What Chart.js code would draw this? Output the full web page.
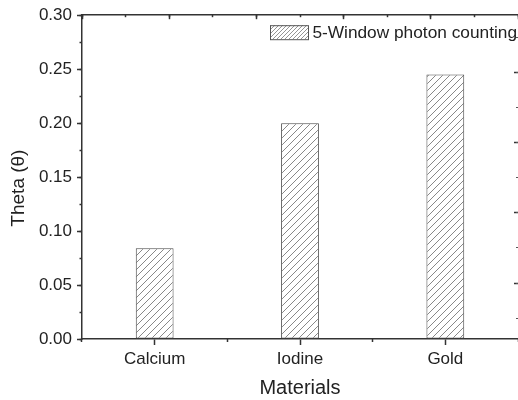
<!DOCTYPE html>
<html>
<head>
<meta charset="utf-8">
<script src="https://cdn.jsdelivr.net/npm/chart.js@4.4.1/dist/chart.umd.min.js"></script>
<style>
  html, body { margin: 0; padding: 0; background: #ffffff; }
  #wrap { width: 518px; height: 400px; }
</style>
</head>
<body>
<div id="wrap"><canvas id="c" width="518" height="400"></canvas></div>
<script>
// ---- data ----
const categories = ['Calcium', 'Iodine', 'Gold'];
const thetaValues = [0.084, 0.200, 0.245];
const seriesLabel = '5-Window photon counting';
const yTickLabels = ['0.00', '0.05', '0.10', '0.15', '0.20', '0.25', '0.30'];
const xTitle = 'Materials';
const yTitle = 'Theta (\u03B8)';

// ---- hatch patterns ----
function makeHatch(size, color, lw) {
  const c = document.createElement('canvas');
  c.width = size; c.height = size;
  const g = c.getContext('2d');
  g.fillStyle = '#ffffff';
  g.fillRect(0, 0, size, size);
  g.strokeStyle = color;
  g.lineWidth = lw;
  g.beginPath();
  g.moveTo(0, size); g.lineTo(size, 0);
  g.moveTo(-1, 1); g.lineTo(1, -1);
  g.moveTo(size - 1, size + 1); g.lineTo(size + 1, size - 1);
  g.stroke();
  return document.getElementById('c').getContext('2d').createPattern(c, 'repeat');
}
const barPattern = makeHatch(7, '#7a7a7a', 0.9);
const legendPattern = makeHatch(4, '#7a7a7a', 0.8);

Chart.defaults.font.family = "'Liberation Sans', Arial, Helvetica, sans-serif";
Chart.defaults.color = '#222222';

const AX = '#333333';

const innerLegend = {
  id: 'innerLegend',
  afterLayout(chart) {
    // move the y title centre a little lower, as in the reference
    const y = chart.scales.y;
    y.bottom += 22;
  },
  afterDraw(chart) {
    const { ctx, chartArea } = chart;
    const ds = chart.data.datasets[0];
    ctx.save();
    ctx.font = "17.3px 'Liberation Sans', Arial, sans-serif";
    const tw = ctx.measureText(ds.label).width;
    const tx = chartArea.right - 1 - tw;
    const bw = 38, bh = 14, gap = 4;
    const bx = Math.round(tx - gap - bw), by = chartArea.top + 10;
    ctx.fillStyle = legendPattern;
    ctx.fillRect(bx, by, bw, bh);
    ctx.strokeStyle = '#555555';
    ctx.lineWidth = 1;
    ctx.strokeRect(bx + 0.5, by + 0.5, bw, bh);
    ctx.fillStyle = '#222222';
    ctx.textBaseline = 'middle';
    ctx.textAlign = 'left';
    ctx.fillText(ds.label, tx, by + bh / 2 + 1);
    ctx.restore();
  }
};

new Chart(document.getElementById('c'), {
  type: 'bar',
  data: {
    labels: categories,
    datasets: [{
      label: seriesLabel,
      data: thetaValues,
      xAxisID: 'x',
      yAxisID: 'y',
      backgroundColor: barPattern,
      borderColor: '#4a4a4a',
      borderWidth: 1,
      borderSkipped: false,
      categoryPercentage: 1,
      barPercentage: 0.26
    }]
  },
  options: {
    responsive: false,
    animation: false,
    layout: { padding: { top: 15, right: 0, bottom: 0, left: 0 } },
    plugins: { legend: { display: false }, tooltip: { enabled: false } },
    scales: {
      x: {
        type: 'category', position: 'bottom', weight: 1, offset: true,
        grid: { offset: false, drawOnChartArea: false, tickLength: 6, tickColor: AX, tickWidth: 1.5 },
        border: { display: true, color: AX, width: 1.5 },
        ticks: { font: { size: 17 }, color: '#222', padding: 4, maxRotation: 0 },
        title: { display: true, text: xTitle, font: { size: 20 }, color: '#222', padding: { top: 0, bottom: 0 } },
        afterFit(s) { s.height = 61; }
      },
      xMinor: {
        type: 'category', position: 'bottom', weight: 0, offset: true,
        grid: { offset: true, drawOnChartArea: false, tickLength: 3, tickColor: AX, tickWidth: 1.5 },
        border: { display: false },
        ticks: { display: false },
        afterFit(s) { s.height = 0; }
      },
      xTop: {
        type: 'linear', position: 'top', weight: 1, offset: false, min: 0, max: 5, beginAtZero: false,
        grid: { offset: false, drawOnChartArea: false, tickLength: -4, tickColor: AX, tickWidth: 1.5 },
        border: { display: true, color: AX, width: 1.5 },
        ticks: { display: false, stepSize: 1, includeBounds: false },
        afterFit(s) { s.height = 0; }
      },
      xTopMinor: {
        type: 'linear', position: 'top', weight: 0, offset: false, min: 0, max: 5, beginAtZero: false,
        grid: { offset: false, drawOnChartArea: false, tickLength: -2, tickColor: AX, tickWidth: 1.5 },
        border: { display: false },
        ticks: { display: false, stepSize: 0.5, includeBounds: false },
        afterFit(s) { s.height = 0; }
      },
      y: {
        type: 'linear', position: 'left', weight: 1, min: 0, max: 0.30, beginAtZero: true,
        grid: { drawOnChartArea: false, tickLength: 5, tickColor: AX, tickWidth: 1.5 },
        border: { display: false },
        ticks: { stepSize: 0.05, font: { size: 17 }, color: '#222', padding: 5,
                 callback: (v, i) => yTickLabels[i] },
        title: { display: true, text: yTitle, font: { size: 19 }, color: '#222', padding: { top: 7, bottom: 0 } },
        afterFit(s) { s.width = 82; }
      },
      yMinor: {
        type: 'linear', position: 'left', weight: 0, min: 0, max: 0.30, beginAtZero: true,
        grid: { drawOnChartArea: false, tickLength: 2.5, tickColor: AX, tickWidth: 1.5 },
        border: { display: true, color: AX, width: 1.5 },
        ticks: { display: false, stepSize: 0.025 },
        afterFit(s) { s.width = 0; }
      },
      yRight: {
        type: 'linear', position: 'right', weight: 1, min: 0.206, max: 4.81, beginAtZero: false,
        grid: { drawOnChartArea: false, tickLength: -4, tickColor: AX, tickWidth: 1.5 },
        border: { display: false },
        ticks: { display: false, stepSize: 1, includeBounds: false },
        afterFit(s) { s.width = 0; }
      },
      yRightMinor: {
        type: 'linear', position: 'right', weight: 0, min: 0.206, max: 4.81, beginAtZero: false,
        grid: { drawOnChartArea: false, tickLength: -2, tickColor: '#555', tickWidth: 1.2 },
        border: { display: false },
        ticks: { display: false, stepSize: 0.5, includeBounds: false },
        afterFit(s) { s.width = 0; }
      }
    }
  },
  plugins: [innerLegend]
});
</script>
</body>
</html>
